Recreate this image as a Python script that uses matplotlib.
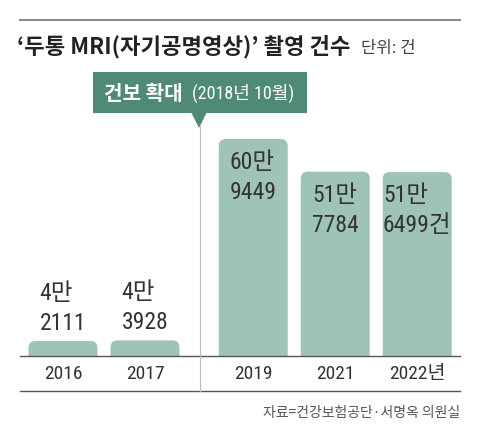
import numpy as np
import matplotlib.pyplot as plt
from matplotlib import font_manager
from matplotlib.patches import FancyBboxPatch, Polygon, Rectangle
from matplotlib.lines import Line2D

# data
years = ['2016', '2017', '2019', '2021', '2022년']
counts = [42111, 43928, 609449, 517784, 516499]
labels = ['4만\n2111', '4만\n3928', '60만\n9449', '51만\n7784', '51만\n6499건']
xpos = [0, 1, 2.32, 3.32, 4.32]

names = {f.name for f in font_manager.fontManager.ttflist}
narrow = 'Liberation Sans'
for cand in ['Roboto Condensed', 'Archivo Narrow', 'Barlow Semi Condensed', 'Liberation Sans Narrow']:
    if cand in names:
        narrow = cand
        break
KR = 'Noto Sans CJK KR'
NUM = [narrow, KR]

W, H = 480, 440
fig = plt.figure(figsize=(4.8, 4.4), dpi=100)
fig.patch.set_facecolor('white')


def fx(px):
    return px / W


def fy(py):
    return 1 - py / H


# axes from baseline (y=356px) up to y=130px
top_px, base_px = 130, 356
ax = fig.add_axes([fx(20), fy(base_px), fx(440), (base_px - top_px) / H])
unit = 82.0
ax.set_xlim(-(63 - 20) / unit, (460 - 63) / unit)
ymax = max(counts) * (base_px - top_px) / 217.0
ax.set_ylim(0, ymax)
ax.axis('off')

bar_col = '#9fc4b7'
ypp = ymax / (base_px - top_px)   # data per pixel in y
r = 7
rs = r / unit
ma = ypp * unit
bw = 69 / unit
for x, v in zip(xpos, counts):
    p = FancyBboxPatch((x - bw / 2, -12 * ypp), bw, v + 12 * ypp,
                       boxstyle=f"round,pad=0,rounding_size={rs}",
                       mutation_aspect=ma, fc=bar_col, ec='none')
    ax.add_patch(p)

for x, v, lab in zip(xpos, counts, labels):
    if v > 200000:
        ax.annotate(lab, (x, v), xytext=(0, -12), textcoords='offset pixels',
                    ha='center', va='top', multialignment='left',
                    fontsize=17, color='#333333', family=NUM, linespacing=1.4)
    else:
        ax.annotate(lab, (x, v), xytext=(0, 6), textcoords='offset pixels',
                    ha='center', va='bottom', multialignment='left',
                    fontsize=17, color='#333333', family=NUM, linespacing=1.4)

ytr = ax.get_xaxis_transform()
for x, yr in zip(xpos, years):
    ax.text(x, (base_px - 374) / (base_px - top_px), yr, ha='center', va='center',
            fontsize=14, color='#333333', family=NUM, transform=ytr)

# lines
fig.add_artist(Line2D([fx(20), fx(460)], [fy(20), fy(20)], color='#8c8c8c', lw=1.5))
fig.add_artist(Line2D([fx(20), fx(460)], [fy(356), fy(356)], color='#555555', lw=1))
fig.add_artist(Line2D([fx(20), fx(460)], [fy(391), fy(391)], color='#555555', lw=1))
fig.add_artist(Line2D([fx(200), fx(200)], [fy(126), fy(391)], color='#bbbbbb', lw=0.8))

# annotation box
box_col = '#4f8a78'
fig.add_artist(Rectangle((fx(93), fy(113)), fx(214), (113 - 72) / H,
                         fc=box_col, ec='none', transform=fig.transFigure))
fig.add_artist(Polygon([[fx(191), fy(112)], [fx(207), fy(112)], [fx(199), fy(128)]],
                       closed=True, fc=box_col, ec='none', transform=fig.transFigure))
fig.text(fx(104), fy(93), '건보 확대', ha='left', va='center', fontsize=14.5,
         fontweight='bold', color='white', family=KR)
fig.text(fx(192), fy(93), '(2018년 10월)', ha='left', va='center', fontsize=13,
         color='white', family=NUM)

# title
fig.text(fx(17), fy(47), '‘두통 MRI(자기공명영상)’ 촬영 건수', ha='left', va='center',
         fontsize=16, fontweight='bold', color='#222222', family=KR)
fig.text(fx(361), fy(48), '단위: 건', ha='left', va='center', fontsize=12,
         color='#444444', family=KR)

# source
fig.text(fx(460), fy(413), '자료=건강보험공단·서명옥 의원실', ha='right', va='center',
         fontsize=10, color='#555555', family=KR)

fig.savefig('out.png', dpi=100)
